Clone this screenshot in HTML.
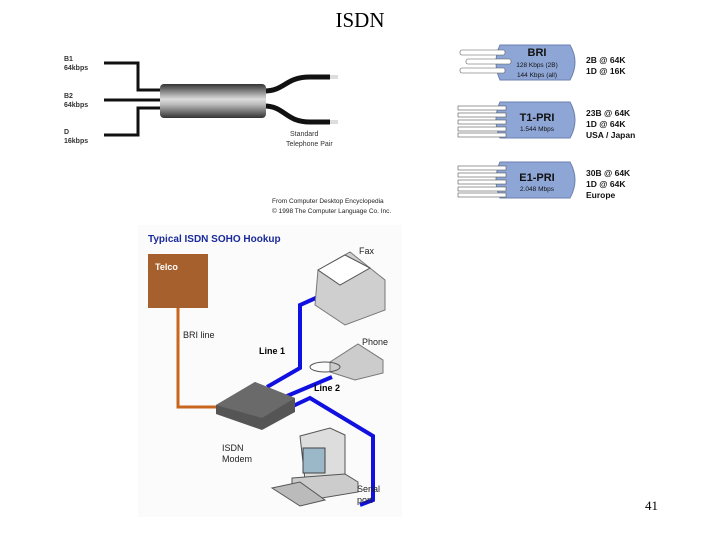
<!DOCTYPE html>
<html><head><meta charset="utf-8"><style>
body{margin:0;width:720px;height:540px;background:#fff;overflow:hidden;position:relative;font-family:"Liberation Sans",sans-serif}
</style></head><body>
<svg width="720" height="540" viewBox="0 0 720 540" xmlns="http://www.w3.org/2000/svg" font-family="Liberation Sans, sans-serif">
<defs>
<linearGradient id="cab" x1="0" y1="0" x2="0" y2="1">
<stop offset="0" stop-color="#333"/><stop offset="0.45" stop-color="#ddd"/><stop offset="0.6" stop-color="#bbb"/><stop offset="1" stop-color="#333"/>
</linearGradient>
</defs>
<text x="360" y="27" font-family="Liberation Serif, serif" font-size="21" text-anchor="middle">ISDN</text>
<!-- top cable -->
<g font-size="7" font-weight="bold" fill="#333">
<text x="64" y="61">B1</text><text x="64" y="70">64kbps</text>
<text x="64" y="98">B2</text><text x="64" y="107">64kbps</text>
<text x="64" y="134">D</text><text x="64" y="143">16kbps</text>
</g>
<g stroke="#111" stroke-width="3" fill="none">
<path d="M104 63H138V90H162"/><path d="M104 100H162"/><path d="M104 135H138V108H162"/>
<path d="M264 91C285 91 285 77 310 77H330" stroke-width="5"/>
<path d="M264 106C285 106 285 122 310 122H330" stroke-width="5"/>
</g>
<rect x="330" y="75" width="8" height="4" fill="#ddd"/><rect x="330" y="120" width="8" height="4" fill="#ddd"/>
<rect x="160" y="84" width="106" height="34" rx="4" fill="url(#cab)"/>
<text x="290" y="136" font-size="7" fill="#333">Standard</text>
<text x="286" y="146" font-size="7" fill="#333">Telephone Pair</text>
<text x="272" y="203" font-size="6.5" fill="#222">From Computer Desktop Encyclopedia</text>
<text x="272" y="213" font-size="6.5" fill="#222">© 1998 The Computer Language Co. Inc.</text>
<!-- right panels -->
<g fill="#8ea6d6" stroke="#6b80b0">
<path d="M500 45H570Q580 62 570 80H500Q492 62 500 45Z"/>
<path d="M500 102H570Q580 120 570 138H500Q492 120 500 102Z"/>
<path d="M500 162H570Q580 180 570 198H500Q492 180 500 162Z"/>
</g>
<g fill="#fff" stroke="#555" stroke-width="0.6">
<rect x="460" y="50" width="45" height="5" rx="2"/><rect x="466" y="59" width="45" height="5" rx="2"/><rect x="460" y="68" width="45" height="5" rx="2"/>
<rect x="458" y="106" width="48" height="4"/><rect x="458" y="113" width="48" height="4"/><rect x="458" y="120" width="48" height="4"/><rect x="458" y="127" width="48" height="4"/><rect x="458" y="133" width="48" height="4"/>
<rect x="458" y="166" width="48" height="4"/><rect x="458" y="173" width="48" height="4"/><rect x="458" y="180" width="48" height="4"/><rect x="458" y="187" width="48" height="4"/><rect x="458" y="193" width="48" height="4"/>
</g>
<g text-anchor="middle" fill="#111">
<text x="537" y="56" font-size="11" font-weight="bold">BRI</text>
<text x="537" y="67" font-size="6.5">128 Kbps (2B)</text><text x="537" y="77" font-size="6.5">144 Kbps (all)</text>
<text x="537" y="121" font-size="11" font-weight="bold">T1-PRI</text><text x="537" y="131" font-size="6.5">1.544 Mbps</text>
<text x="537" y="181" font-size="11" font-weight="bold">E1-PRI</text><text x="537" y="191" font-size="6.5">2.048 Mbps</text>
</g>
<g font-size="8.5" font-weight="bold" fill="#111">
<text x="586" y="63">2B @ 64K</text><text x="586" y="74">1D @ 16K</text>
<text x="586" y="116">23B @ 64K</text><text x="586" y="127">1D @ 64K</text><text x="586" y="138">USA / Japan</text>
<text x="586" y="176">30B @ 64K</text><text x="586" y="187">1D @ 64K</text><text x="586" y="198">Europe</text>
</g>
<!-- SOHO -->
<rect x="138" y="225" width="264" height="292" fill="#fbfbfb"/>
<text x="148" y="242" font-size="10" font-weight="bold" fill="#1a2a9a">Typical ISDN SOHO Hookup</text>
<rect x="148" y="254" width="60" height="54" fill="#a5602e"/>
<text x="155" y="270" font-size="9" font-weight="bold" fill="#fff">Telco</text>
<path d="M178 308V407H218" stroke="#c8661e" stroke-width="3" fill="none"/>
<text x="183" y="338" font-size="9" fill="#222">BRI line</text>
<g stroke="#1010e0" stroke-width="4" fill="none">
<path d="M267 387L300 368V305L318 297"/>
<path d="M287 396L332 377"/>
<path d="M293 406L310 398L373 436V500L360 505"/>
</g>
<text x="259" y="354" font-size="9" font-weight="bold">Line 1</text>
<text x="314" y="391" font-size="9" font-weight="bold">Line 2</text>
<!-- modem -->
<path d="M216 405L255 382L295 398V412L262 430L216 414Z" fill="#555"/>
<path d="M216 405L255 382L295 398L262 418Z" fill="#6a6a6a"/>
<text x="222" y="451" font-size="9" fill="#222">ISDN</text><text x="222" y="462" font-size="9" fill="#222">Modem</text>
<!-- fax -->
<path d="M318 270L350 252L385 280V310L345 325L315 305Z" fill="#cfcfcf" stroke="#777"/>
<path d="M318 270L345 255L370 268L340 285Z" fill="#fff" stroke="#555"/>
<text x="359" y="254" font-size="9" fill="#222">Fax</text>
<!-- phone -->
<path d="M330 362L358 344L383 360V373L355 380L330 372Z" fill="#ccc" stroke="#777"/>
<ellipse cx="325" cy="367" rx="15" ry="5" fill="none" stroke="#555"/>
<text x="362" y="345" font-size="9" fill="#222">Phone</text>
<!-- computer -->
<path d="M300 436L330 428L345 435V478L305 480Z" fill="#ddd" stroke="#555"/>
<rect x="303" y="448" width="22" height="25" fill="#9ab8c8" stroke="#444"/>
<path d="M292 478L345 474L358 482V492L310 500L292 490Z" fill="#ccc" stroke="#555"/>
<path d="M272 488L300 482L325 500L300 506Z" fill="#bbb" stroke="#555"/>
<text x="357" y="492" font-size="9" fill="#222">Serial</text><text x="357" y="503" font-size="9" fill="#222">port</text>
<text x="645" y="510" font-family="Liberation Serif, serif" font-size="13">41</text>
</svg>
</body></html>
